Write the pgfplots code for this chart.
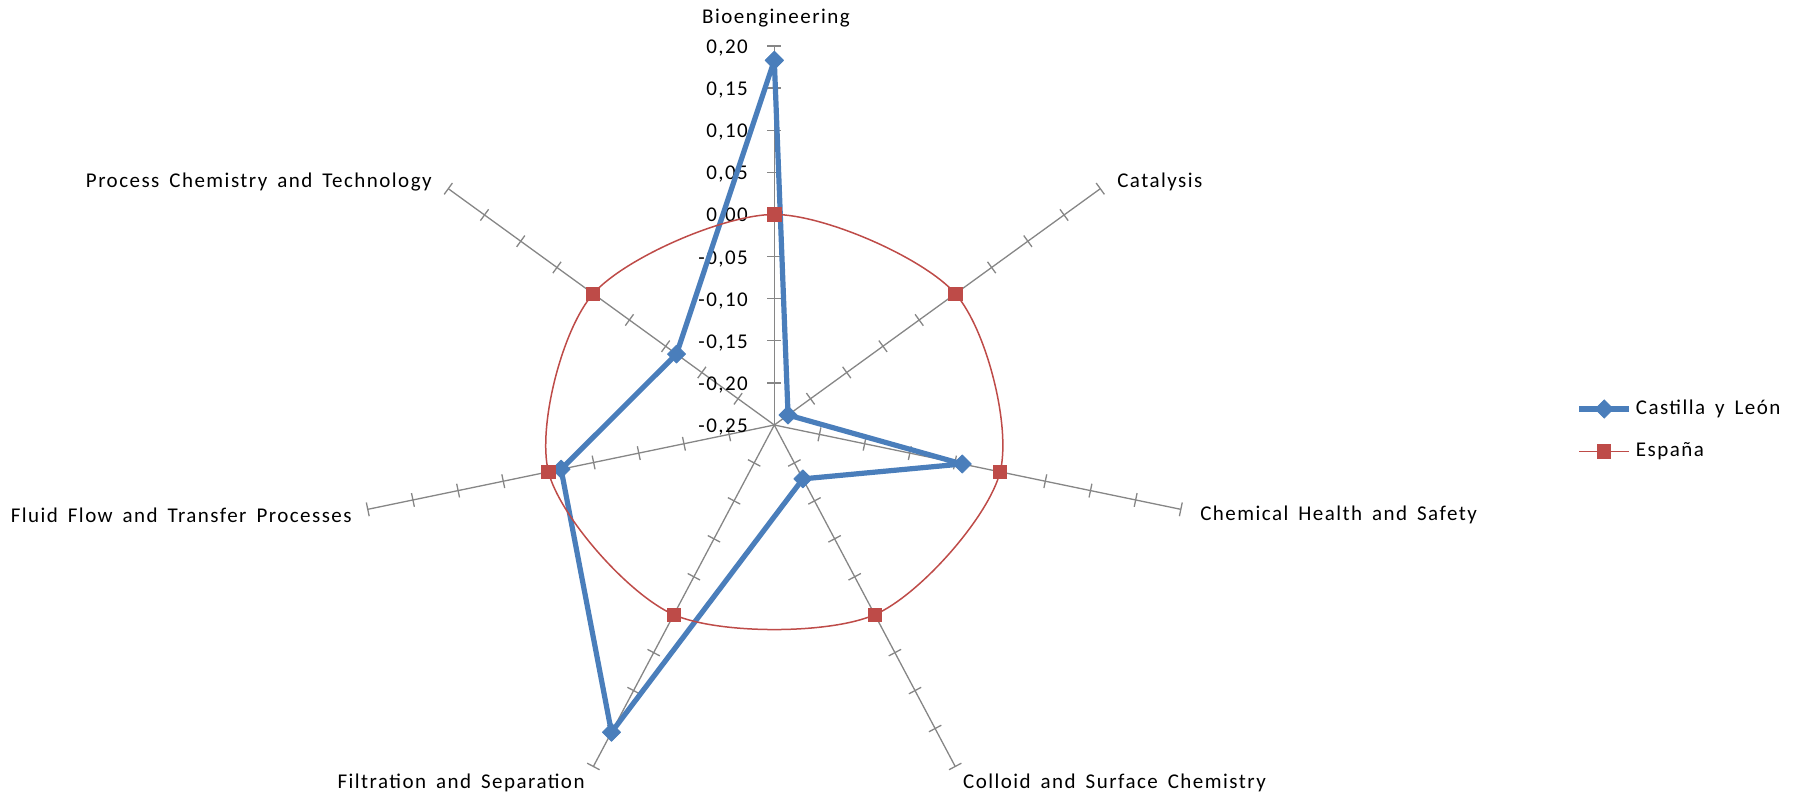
\documentclass[border=0pt]{standalone}
\usepackage{pgfplots}
\pgfplotsset{compat=1.18}
\usepackage{pgfplotstable}
\usepackage{fontspec}
\setmainfont{Carlito}[LetterSpace=7, WordSpace=1.6]
\definecolor{cylblue}{HTML}{4A7EBB}
\definecolor{espred}{HTML}{BE4B48}
\definecolor{spoke}{HTML}{868686}

% angle (deg, clockwise from top) and value
\pgfplotstableread{
ang cyl
90 0.183
38.5714 -0.231
-12.8571 -0.042
-64.2857 -0.179
-115.7143 0.155
-167.1429 -0.014
-218.5714 -0.115
-270 0.183
}\cyltable
\pgfplotstableread{
ang esp
90 0
38.5714 0
-12.8571 0
-64.2857 0
-115.7143 0
-167.1429 0
-218.5714 0
}\esptable

\def\ux{463.3}
\def\uy{421.1}

\begin{document}
\begin{tikzpicture}[font=\fontsize{10.5}{12}\selectfont, lab/.style={inner sep=0pt}]
% spokes and tick marks
\foreach \k in {0,...,6}{
  \pgfmathsetmacro\th{90-\k*360/7}
  \pgfmathsetmacro\cx{cos(\th)*\ux}
  \pgfmathsetmacro\cy{sin(\th)*\uy}
  \pgfmathsetmacro\ph{atan2(\cy,\cx)}
  \draw[spoke, line width=0.65pt] (0,0) -- ({0.45*(\cx)*1pt},{0.45*(\cy)*1pt});
  \foreach \j in {1,...,9}{
    \draw[spoke, line width=0.65pt] ({0.05*\j*(\cx)*1pt},{0.05*\j*(\cy)*1pt}) ++({\ph+90}:3.5pt) -- ++({\ph-90}:7pt);
  }
}
% radial tick labels
\node[lab, anchor=east] at (-13pt,{0*21.055pt-1pt}) {-0,25};
\node[lab, anchor=east] at (-13pt,{1*21.055pt-1pt}) {-0,20};
\node[lab, anchor=east] at (-13pt,{2*21.055pt-1pt}) {-0,15};
\node[lab, anchor=east] at (-13pt,{3*21.055pt-1pt}) {-0,10};
\node[lab, anchor=east] at (-13pt,{4*21.055pt-1pt}) {-0,05};
\node[lab, anchor=east] at (-13pt,{5*21.055pt-1pt}) {0,00};
\node[lab, anchor=east] at (-13pt,{6*21.055pt-1pt}) {0,05};
\node[lab, anchor=east] at (-13pt,{7*21.055pt-1pt}) {0,10};
\node[lab, anchor=east] at (-13pt,{8*21.055pt-1pt}) {0,15};
\node[lab, anchor=east] at (-13pt,{9*21.055pt-1pt}) {0,20};

\begin{axis}[
  at={(0pt,0pt)}, anchor=origin,
  x=463.3pt, y=421.1pt,
  xmin=-0.8356, xmax=1.1026, ymin=-0.4381, ymax=0.5046,
  hide axis, clip=false,
  legend image code/.code={\draw[mark repeat=2,mark phase=2,#1] plot coordinates {(0pt,0pt) (12.5pt,0pt) (25pt,0pt)};},
  legend style={at={(axis cs:0.859,-0.006)}, anchor=west, draw=none, fill=none,
    font=\fontsize{10.5}{12}\selectfont, row sep=8.5pt},
  legend cell align=left,
]
\addplot[cylblue, line width=2.6pt, line join=round, mark=square*, mark size=3.2pt,
  mark options={rotate=45, solid, line width=0.4pt, fill=cylblue, draw=cylblue},
  data cs=polar, forget plot]
  table[x=ang, y expr=\thisrow{cyl}+0.25] {\cyltable};
\addplot[espred, line width=0.75pt, smooth cycle, data cs=polar, forget plot]
  table[x=ang, y expr=\thisrow{esp}+0.25] {\esptable};
\addplot[espred, only marks, mark=square*, mark size=3.3pt,
  mark options={fill=espred, draw=espred, line width=0.4pt},
  data cs=polar, forget plot]
  table[x=ang, y expr=\thisrow{esp}+0.25] {\esptable};

\addlegendimage{cylblue, line width=2.6pt, mark=square*, mark size=3.2pt,
  mark options={rotate=45, solid, line width=0.4pt, fill=cylblue, draw=cylblue}}
\addlegendentry{Castilla y León}
\addlegendimage{espred, line width=0.75pt, mark=square*, mark size=3.3pt,
  mark options={fill=espred, draw=espred, line width=0.4pt}}
\addlegendentry{España}
\end{axis}

% category labels
\node[lab] at (0.85pt,203.5pt) {Bioengineering};
\node[lab, anchor=west] at (171.3pt,121.5pt) {Catalysis};
\node[lab, anchor=west] at (212.8pt,-45pt) {Chemical Health and Safety};
\node[lab] at (170.1pt,-179pt) {Colloid and Surface Chemistry};
\node[lab] at (-156.6pt,-179pt) {Filtration and Separation};
\node[lab, anchor=east] at (-211.1pt,-45pt) {Fluid Flow and Transfer Processes};
\node[lab, anchor=east] at (-171.1pt,121.5pt) {Process Chemistry and Technology};

\pgfresetboundingbox
\path[use as bounding box] (-387.15pt,-184.5pt) rectangle (510.85pt,212.5pt);
\end{tikzpicture}
\end{document}
